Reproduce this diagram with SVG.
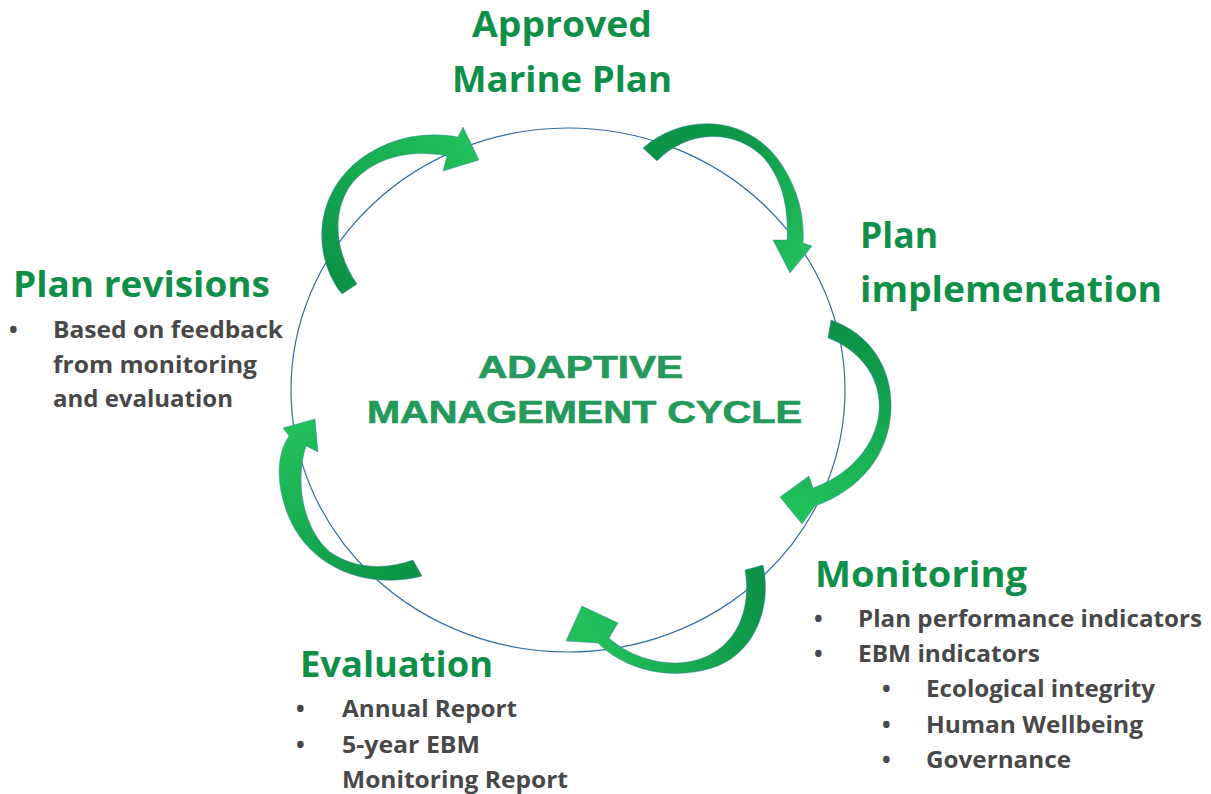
<svg xmlns="http://www.w3.org/2000/svg" width="1211" height="794" viewBox="0 0 1211 794">
<defs>
<style>
.h{font-family:"Open Sans","Noto Sans",sans-serif;font-weight:700;fill:#0f8f48;font-size:35px}
.b{font-family:"Open Sans","Noto Sans",sans-serif;font-weight:700;fill:#484848;font-size:23px}
.t{font-family:"Liberation Sans",Arial,sans-serif;font-weight:700;fill:#25995b;stroke:#25995b;stroke-width:0.7;font-size:32px}
.arr{stroke:#3d74a8;stroke-width:0.8;stroke-opacity:0.55;stroke-linejoin:round}
</style>
<linearGradient id="g1" gradientUnits="userSpaceOnUse" x1="345" y1="290" x2="470" y2="150"><stop offset="0" stop-color="#0c9346"/><stop offset="1" stop-color="#21c05b"/></linearGradient>
<linearGradient id="g2" gradientUnits="userSpaceOnUse" x1="650" y1="150" x2="795" y2="265"><stop offset="0" stop-color="#0c9346"/><stop offset="0.4" stop-color="#0e9a4a"/><stop offset="1" stop-color="#21c05b"/></linearGradient>
<linearGradient id="g3" gradientUnits="userSpaceOnUse" x1="830" y1="325" x2="790" y2="505"><stop offset="0" stop-color="#0c9346"/><stop offset="1" stop-color="#21c05b"/></linearGradient>
<linearGradient id="g4" gradientUnits="userSpaceOnUse" x1="755" y1="568" x2="585" y2="620"><stop offset="0" stop-color="#0c9346"/><stop offset="1" stop-color="#21c05b"/></linearGradient>
<linearGradient id="g5" gradientUnits="userSpaceOnUse" x1="418" y1="568" x2="300" y2="425"><stop offset="0" stop-color="#0c9346"/><stop offset="1" stop-color="#21c05b"/></linearGradient>
</defs>
<rect width="1211" height="794" fill="#ffffff"/>
<ellipse id="cycle" cx="568" cy="390" rx="277" ry="262" fill="none" stroke="#2f6ea8" stroke-width="1.2"/>
<g id="connectors">
<path class="arr" fill="url(#g1)" d="M 342,294 C 316,262 312,208 348,170 C 378,140 420,130 458,137 L 463,127 L 479,160 L 443,171 L 447,156 C 410,149 376,157 353,182 C 332,208 333,250 357,284 Z"/>
<path class="arr" fill="url(#g2)" d="M 643,148 C 680,115 742,113 777,158 C 797,185 805,215 803,243 L 812,246 L 790,273 L 773,240 L 787,240 C 789,205 781,176 761,155 C 731,128 686,131 657,161 Z"/>
<path class="arr" fill="url(#g3)" d="M 831,320 C 871,334 893,370 891,410 C 889,455 860,490 815,506 L 802,524 L 780,497 L 809,476 L 813,488 C 850,475 876,445 879,412 C 882,378 860,350 828,338 Z"/>
<path class="arr" fill="url(#g4)" d="M 763,565 C 773,610 752,656 712,668 C 670,681 625,670 598,643 L 566,641 L 582,606 L 618,623 L 609,638 C 632,659 670,669 700,659 C 735,647 752,612 745,570 Z"/>
<path class="arr" fill="url(#g5)" d="M 422,576 C 370,590 310,570 288,515 C 276,485 276,455 289,436 L 283,428 L 315,419 L 318,452 L 306,446 C 295,480 302,528 330,552 C 355,569 385,570 413,560 Z"/>
</g>
<g id="title">
<text class="t" x="580.5" y="378" text-anchor="middle" textLength="205" lengthAdjust="spacingAndGlyphs">ADAPTIVE</text>
<text class="t" x="584.5" y="423" text-anchor="middle" textLength="435" lengthAdjust="spacingAndGlyphs">MANAGEMENT CYCLE</text>
</g>
<g id="approved">
<text class="h" x="472" y="37" textLength="180" lengthAdjust="spacingAndGlyphs">Approved</text>
<text class="h" x="452" y="92" textLength="220" lengthAdjust="spacingAndGlyphs">Marine Plan</text>
</g>
<g id="implementation">
<text class="h" x="860" y="248" textLength="78" lengthAdjust="spacingAndGlyphs">Plan</text>
<text class="h" x="860" y="302" textLength="302" lengthAdjust="spacingAndGlyphs">implementation</text>
</g>
<g id="monitoring">
<text class="h" x="815" y="587" textLength="212" lengthAdjust="spacingAndGlyphs">Monitoring</text>
<text class="b" x="814" y="627">•</text>
<text class="b" x="858" y="627" textLength="344" lengthAdjust="spacingAndGlyphs">Plan performance indicators</text>
<text class="b" x="814" y="662">•</text>
<text class="b" x="858" y="662" textLength="182" lengthAdjust="spacingAndGlyphs">EBM indicators</text>
<text class="b" x="882" y="697">•</text>
<text class="b" x="926" y="697" textLength="229" lengthAdjust="spacingAndGlyphs">Ecological integrity</text>
<text class="b" x="882" y="733">•</text>
<text class="b" x="926" y="733" textLength="217" lengthAdjust="spacingAndGlyphs">Human Wellbeing</text>
<text class="b" x="882" y="768">•</text>
<text class="b" x="926" y="768" textLength="145" lengthAdjust="spacingAndGlyphs">Governance</text>
</g>
<g id="evaluation">
<text class="h" x="300" y="677" textLength="193" lengthAdjust="spacingAndGlyphs">Evaluation</text>
<text class="b" x="296" y="717">•</text>
<text class="b" x="342" y="717" textLength="175" lengthAdjust="spacingAndGlyphs">Annual Report</text>
<text class="b" x="296" y="753">•</text>
<text class="b" x="342" y="753" textLength="138" lengthAdjust="spacingAndGlyphs">5-year EBM</text>
<text class="b" x="342" y="788" textLength="226" lengthAdjust="spacingAndGlyphs">Monitoring Report</text>
</g>
<g id="revisions">
<text class="h" x="13" y="297" textLength="257" lengthAdjust="spacingAndGlyphs">Plan revisions</text>
<text class="b" x="9" y="338">•</text>
<text class="b" x="53" y="338" textLength="230" lengthAdjust="spacingAndGlyphs">Based on feedback</text>
<text class="b" x="53" y="373" textLength="204" lengthAdjust="spacingAndGlyphs">from monitoring</text>
<text class="b" x="53" y="407" textLength="180" lengthAdjust="spacingAndGlyphs">and evaluation</text>
</g>
</svg>
